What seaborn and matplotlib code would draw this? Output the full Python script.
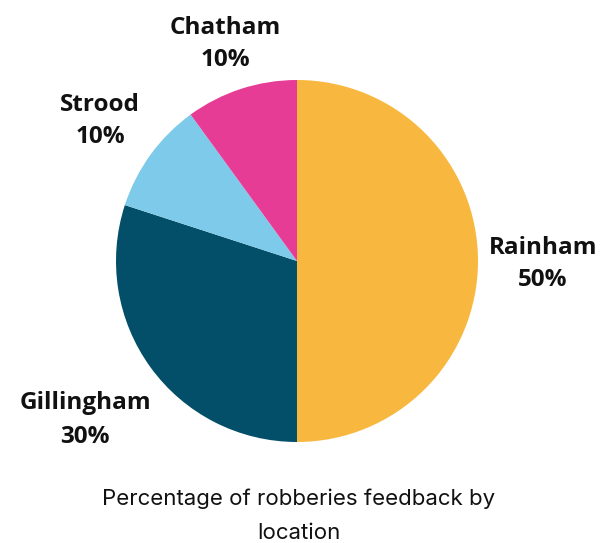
import matplotlib
matplotlib.use("Agg")
import matplotlib.pyplot as plt
import seaborn as sns

locations = ["Rainham", "Gillingham", "Strood", "Chatham"]
shares = [50, 30, 10, 10]
colors = ["#F8B83F", "#034E68", "#7ECAEA", "#E73C95"]
title = "Percentage of robberies feedback by\nlocation"

sns.set_theme(style="white")
plt.rcParams['font.family'] = ['Open Sans', 'DejaVu Sans']

fig = plt.figure(figsize=(6.08, 5.43), dpi=100)
W, H = 608, 543
ax = fig.add_axes([116 / W, 1 - 442 / H, 362 / W, 362 / H])
ax.pie(shares, colors=colors, startangle=90, counterclock=False,
       radius=1, wedgeprops=dict(linewidth=0))
ax.set_xlim(-1, 1)
ax.set_ylim(-1, 1)
ax.set_aspect("equal")
ax.axis("off")

label_pos = {
    "Rainham": (543, 264, 1.4),
    "Gillingham": (85, 420, 1.6),
    "Strood": (100, 121, 1.4),
    "Chatham": (225, 44, 1.4),
}
for name, val in zip(locations, shares):
    px, py, ls = label_pos[name]
    fig.text(px / W, 1 - py / H, f"{name}\n{val}%", ha="center", va="center",
             fontsize=17.5, fontweight="bold", color="#111111", linespacing=ls)

fig.text(299 / W, 1 - 516 / H, title, ha="center", va="center",
         fontsize=16, fontweight="normal", color="#111111", linespacing=1.9,
         family=['Inter', 'DejaVu Sans'])

fig.savefig("out.png", dpi=100, facecolor="white")
